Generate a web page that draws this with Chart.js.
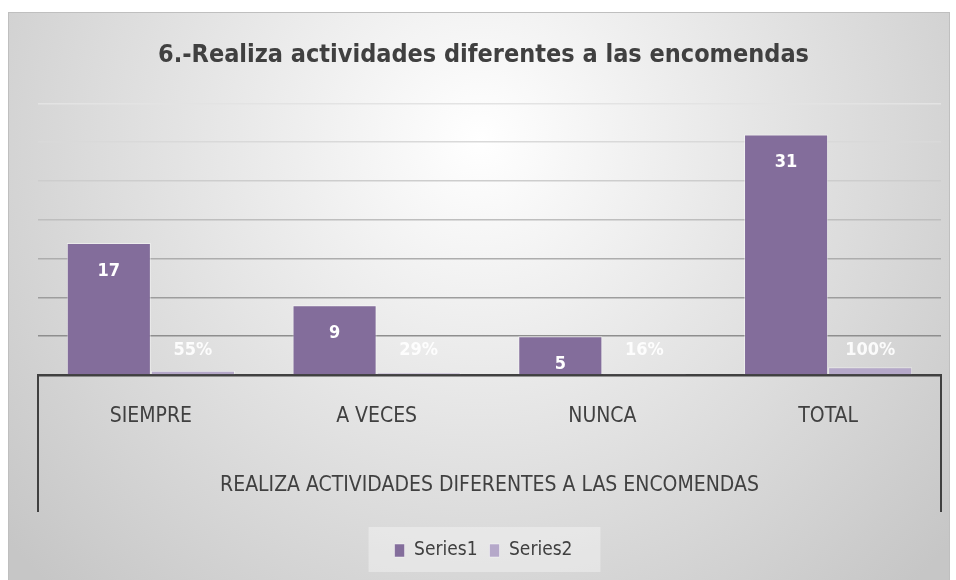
<!DOCTYPE html>
<html>
<head>
<meta charset="utf-8">
<script src="https://cdn.jsdelivr.net/npm/chart.js@4.4.1/dist/chart.umd.min.js"></script>
<style>
  html, body { margin: 0; padding: 0; background: #fff; }
</style>
</head>
<body>
<canvas id="chart" width="956" height="580"></canvas>
<script>
// Chart data
const categories = ['SIEMPRE', 'A VECES', 'NUNCA', 'TOTAL'];
const series1 = [17, 9, 5, 31];
const series2 = [0.55, 0.29, 0.16, 1.00];
const series2Labels = ['55%', '29%', '16%', '100%'];
const yMax = 35;
const yStep = 5;

const FONT = "'Liberation Sans Narrow', 'DejaVu Sans Condensed', 'Open Sans', sans-serif";
const TEXT = '#404040';

// gridline shade per tick (darker near the baseline)
const gridShades = ['#404040', '#8e8e8e', '#9d9d9d', '#adadad', '#bebebe', '#cdcdcd', '#d9d9d9', '#e3e3e3'];

// Background, frame and legend box
const framePlugin = {
    id: 'frame',
    beforeDraw(chart) {
        const ctx = chart.ctx;
        ctx.save();
        ctx.fillStyle = '#ffffff';
        ctx.fillRect(0, 0, chart.width, chart.height);
        const g = ctx.createRadialGradient(480, 140, 0, 480, 140, 620);
        g.addColorStop(0, '#ffffff');
        g.addColorStop(1, '#c6c6c6');
        ctx.fillStyle = g;
        ctx.fillRect(8, 12, 941, 580);
        ctx.strokeStyle = '#bfbfbf';
        ctx.lineWidth = 1;
        ctx.strokeRect(8.5, 12.5, 941, 600);

        const lg = chart.legend;
        if (lg && lg.legendHitBoxes.length) {
            const hb = lg.legendHitBoxes;
            const x0 = Math.min(...hb.map(b => b.left)) - 26;
            const x1 = Math.max(...hb.map(b => b.left + b.width)) + 28;
            ctx.fillStyle = 'rgba(255,255,255,0.35)';
            ctx.fillRect(x0, lg.top - 2, x1 - x0, lg.height + 4);
        }
        ctx.restore();
    },
    afterDraw(chart) {
        const ctx = chart.ctx;
        const a = chart.chartArea;
        ctx.save();
        ctx.strokeStyle = TEXT;
        ctx.lineWidth = 2;
        ctx.beginPath();
        ctx.moveTo(a.left, a.bottom);
        ctx.lineTo(a.left, 512);
        ctx.moveTo(a.right, a.bottom);
        ctx.lineTo(a.right, 512);
        ctx.stroke();
        ctx.restore();
    }
};

// Value labels on the bars
const labelPlugin = {
    id: 'valueLabels',
    afterDatasetsDraw(chart) {
        const ctx = chart.ctx;
        ctx.save();
        ctx.font = 'bold 18px ' + FONT;
        ctx.textAlign = 'center';
        ctx.textBaseline = 'middle';
        chart.getDatasetMeta(0).data.forEach((bar, i) => {
            ctx.fillStyle = '#ffffff';
            ctx.fillText(String(series1[i]), bar.x, bar.y + 28);
        });
        chart.getDatasetMeta(1).data.forEach((bar, i) => {
            ctx.fillStyle = 'rgba(255,255,255,0.9)';
            ctx.fillText(series2Labels[i], bar.x, Math.min(bar.y - 17, bar.base - 24));
        });
        ctx.restore();
    }
};

new Chart(document.getElementById('chart'), {
    type: 'bar',
    data: {
        labels: categories,
        datasets: [{
            label: 'Series1',
            data: series1,
            backgroundColor: '#836d9b',
            borderColor: 'rgba(255,255,255,0.45)',
            borderWidth: 1
        }, {
            label: 'Series2',
            data: series2,
            backgroundColor: '#b5a8c9',
            borderColor: 'rgba(255,255,255,0.45)',
            borderWidth: 1
        }]
    },
    options: {
        responsive: false,
        animation: false,
        devicePixelRatio: 1,
        datasets: { bar: { barPercentage: 1, categoryPercentage: 0.745 } },
        layout: { padding: { left: 26, right: 15, top: 0, bottom: 10 } },
        plugins: {
            title: {
                display: true,
                text: '6.-Realiza actividades diferentes a las encomendas',
                color: TEXT,
                font: { family: FONT, size: 25, weight: 'bold' },
                padding: { top: 40, bottom: 33.4 }
            },
            legend: {
                position: 'bottom',
                labels: {
                    color: TEXT,
                    font: { family: FONT, size: 19 },
                    boxWidth: 10,
                    boxHeight: 13,
                    padding: 12
                }
            },
            tooltip: { enabled: false }
        },
        scales: {
            x: {
                grid: { display: false, drawTicks: false },
                border: { display: true, color: TEXT, width: 2.5 },
                ticks: { color: TEXT, font: { family: FONT, size: 21 }, padding: 29 },
                title: {
                    display: true,
                    text: 'REALIZA ACTIVIDADES DIFERENTES A LAS ENCOMENDAS',
                    color: TEXT,
                    font: { family: FONT, size: 21 },
                    padding: { top: 0, bottom: 31 }
                },
                afterFit: s => { s.height = 154; }
            },
            y: {
                min: 0,
                max: yMax,
                ticks: { display: false, stepSize: yStep },
                grid: {
                    color: c => gridShades[Math.round(c.tick.value / yStep)] || '#e3e3e3',
                    lineWidth: 1.5,
                    drawTicks: false
                },
                border: { display: false },
                afterFit: s => { s.width = 12; }
            }
        }
    },
    plugins: [framePlugin, labelPlugin]
});
</script>
</body>
</html>
